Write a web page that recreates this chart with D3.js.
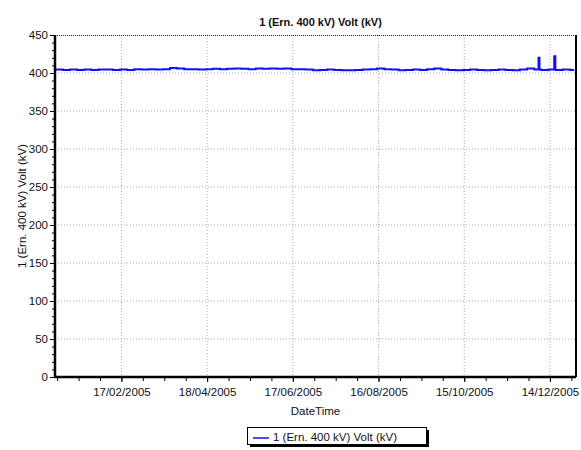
<!DOCTYPE html>
<html>
<head>
<meta charset="utf-8">
<script src="https://cdn.jsdelivr.net/npm/d3@7"></script>
<style>
  body { margin: 0; background: #fff; }
  svg text { font-family: Arial, "Liberation Sans", sans-serif; fill: #111; }
</style>
</head>
<body>
<div id="chart"></div>
<script>
// chart text
var title = "1 (Ern. 400 kV) Volt (kV)";
var seriesName = "1 (Ern. 400 kV) Volt (kV)";
var xTitle = "DateTime";

// x tick labels (every 60 days) and y ticks
var xTickLabels = ["17/02/2005", "18/04/2005", "17/06/2005", "16/08/2005", "15/10/2005", "14/12/2005"];
var yTicks = [0, 50, 100, 150, 200, 250, 300, 350, 400, 450];

// series: day of year 2005 and voltage
var dayOfYear = [2, 7, 12, 17, 22, 27, 32, 37, 42, 47, 52, 57, 62, 67, 72, 77, 82, 87, 92, 97,
  102, 107, 112, 117, 122, 127, 132, 137, 142, 147, 152, 157, 162, 167, 172, 177, 182, 187, 192, 197,
  202, 207, 212, 217, 222, 227, 232, 237, 242, 247, 252, 257, 262, 267, 272, 277, 282, 287, 292, 297,
  302, 307, 312, 317, 322, 327, 332, 337, 340, 340.7, 342, 347, 351, 351.8, 352, 357, 362, 365];
var volts = [404.5, 404, 404.5, 404, 404.5, 404, 404.5, 404.5, 404, 404.5, 404, 405, 404.5, 405, 404.5, 405, 406.5, 406, 405, 405,
  404.5, 405, 405.5, 405, 405.5, 406, 405.5, 405, 406, 405.5, 406, 405.5, 406, 405, 405, 404.5, 403.5, 404, 404.5, 404,
  403.5, 403.5, 404, 404.5, 405, 406, 405, 404.5, 403.5, 404, 404.5, 404, 405, 406, 404.5, 404, 403.5, 404, 404.5, 404,
  403.5, 404, 404.5, 404, 403.5, 404.5, 406, 404.5, 420, 404.5, 404, 404.5, 422, 404.5, 404, 404.5, 404, 404];

var W = 581, H = 450;
var margin = {top: 35, right: 5, bottom: 73, left: 55},
    width = W - margin.left - margin.right,
    height = H - margin.top - margin.bottom;

var parse = d3.utcParse("%d/%m/%Y");
var jan1 = Date.UTC(2005, 0, 1);
var data = dayOfYear.map(function (d, i) {
  return {date: new Date(jan1 + (d - 1) * 864e5), v: volts[i]};
});

var svg = d3.select("#chart")
  .append("svg")
    .attr("width", W)
    .attr("height", H)
  .append("g")
    .attr("transform", "translate(" + margin.left + "," + margin.top + ")");

var x = d3.scaleUtc()
  .domain([new Date(Date.UTC(2005, 0, 1, 12)), new Date(Date.UTC(2006, 0, 1, 6))])
  .range([0, width]);

var y = d3.scaleLinear()
  .domain([0, 450])
  .range([height, 0]);

var majorX = xTickLabels.map(parse);
// minor ticks every 15 days around the labelled ones
var minorX = d3.range(-4, 22).map(function (k) { return d3.utcDay.offset(majorX[0], k * 15); })
  .filter(function (d) { return d >= x.domain()[0] && d <= x.domain()[1]; });
var minorY = d3.range(0, 451, 10);

// grid
svg.append("g")
  .selectAll("line")
  .data(majorX)
  .enter().append("line")
    .attr("x1", function (d) { return x(d); })
    .attr("x2", function (d) { return x(d); })
    .attr("y1", 0).attr("y2", height)
    .attr("stroke", "#aaa")
    .attr("stroke-dasharray", "1,2");
svg.append("g")
  .selectAll("line")
  .data(yTicks.slice(1, -1))
  .enter().append("line")
    .attr("x1", 0).attr("x2", width)
    .attr("y1", function (d) { return y(d); })
    .attr("y2", function (d) { return y(d); })
    .attr("stroke", "#aaa")
    .attr("stroke-dasharray", "1,2");

// frame: dotted top, solid right
svg.append("line")
  .attr("x1", 0).attr("x2", width).attr("y1", 0.5).attr("y2", 0.5)
  .attr("stroke", "#222").attr("stroke-dasharray", "1,1");
svg.append("line")
  .attr("x1", width).attr("x2", width).attr("y1", 0).attr("y2", height)
  .attr("stroke", "#000").attr("stroke-width", 2);

// series
var line = d3.line()
  .curve(d3.curveStepAfter)
  .x(function (d) { return x(d.date); })
  .y(function (d) { return y(d.v); });
svg.append("path")
  .datum(data)
  .attr("fill", "none")
  .attr("stroke", "#1010ff")
  .attr("stroke-width", 2)
  .attr("d", line);

// y axis
var yAxis = svg.append("g")
  .call(d3.axisLeft(y).tickValues(yTicks).tickSize(5).tickPadding(2));
svg.append("g")
  .call(d3.axisLeft(y).tickValues(minorY).tickSize(3).tickFormat(""))
  .select(".domain").remove();
yAxis.select(".domain").attr("stroke-width", 2.5).attr("d", "M0," + (height + 1) + "V0");
yAxis.selectAll("text").style("font-size", "11.5px").attr("fill", "#222");

// x axis
var xAxis = svg.append("g")
  .attr("transform", "translate(0," + height + ")")
  .call(d3.axisBottom(x).tickValues(majorX).tickSize(5).tickPadding(6)
    .tickFormat(d3.utcFormat("%d/%m/%Y")));
svg.append("g")
  .attr("transform", "translate(0," + height + ")")
  .call(d3.axisBottom(x).tickValues(minorX).tickSize(4).tickFormat(""))
  .select(".domain").remove();
xAxis.select(".domain").attr("stroke-width", 2.5).attr("d", "M0,0H" + width);
xAxis.selectAll("text").style("font-size", "11.5px").attr("fill", "#222");

// titles
svg.append("text")
  .attr("x", width / 2 + 5).attr("y", -9)
  .attr("text-anchor", "middle")
  .style("font-size", "11px").style("font-weight", "bold")
  .text(title);
svg.append("text")
  .attr("x", width / 2 + 0).attr("y", height + 38)
  .attr("text-anchor", "middle")
  .style("font-size", "11.5px")
  .text(xTitle);
svg.append("text")
  .attr("transform", "translate(-29," + (height / 2) + ") rotate(-90)")
  .attr("text-anchor", "middle")
  .style("font-size", "11.5px")
  .text(seriesName);

// legend
var lg = svg.append("g").attr("transform", "translate(" + (247 - margin.left) + "," + (427 - margin.top) + ")");
lg.append("rect").attr("x", 3).attr("y", 3).attr("width", 179).attr("height", 17).attr("fill", "#000");
lg.append("rect").attr("x", 0.5).attr("y", 0.5).attr("width", 179).attr("height", 17)
  .attr("fill", "#fff").attr("stroke", "#000");
lg.append("line").attr("x1", 6).attr("x2", 22).attr("y1", 11).attr("y2", 11)
  .attr("stroke", "#1010ff").attr("stroke-width", 1.5);
lg.append("text").attr("x", 26).attr("y", 13.5)
  .style("font-size", "11.5px")
  .text(seriesName);
</script>
</body>
</html>
